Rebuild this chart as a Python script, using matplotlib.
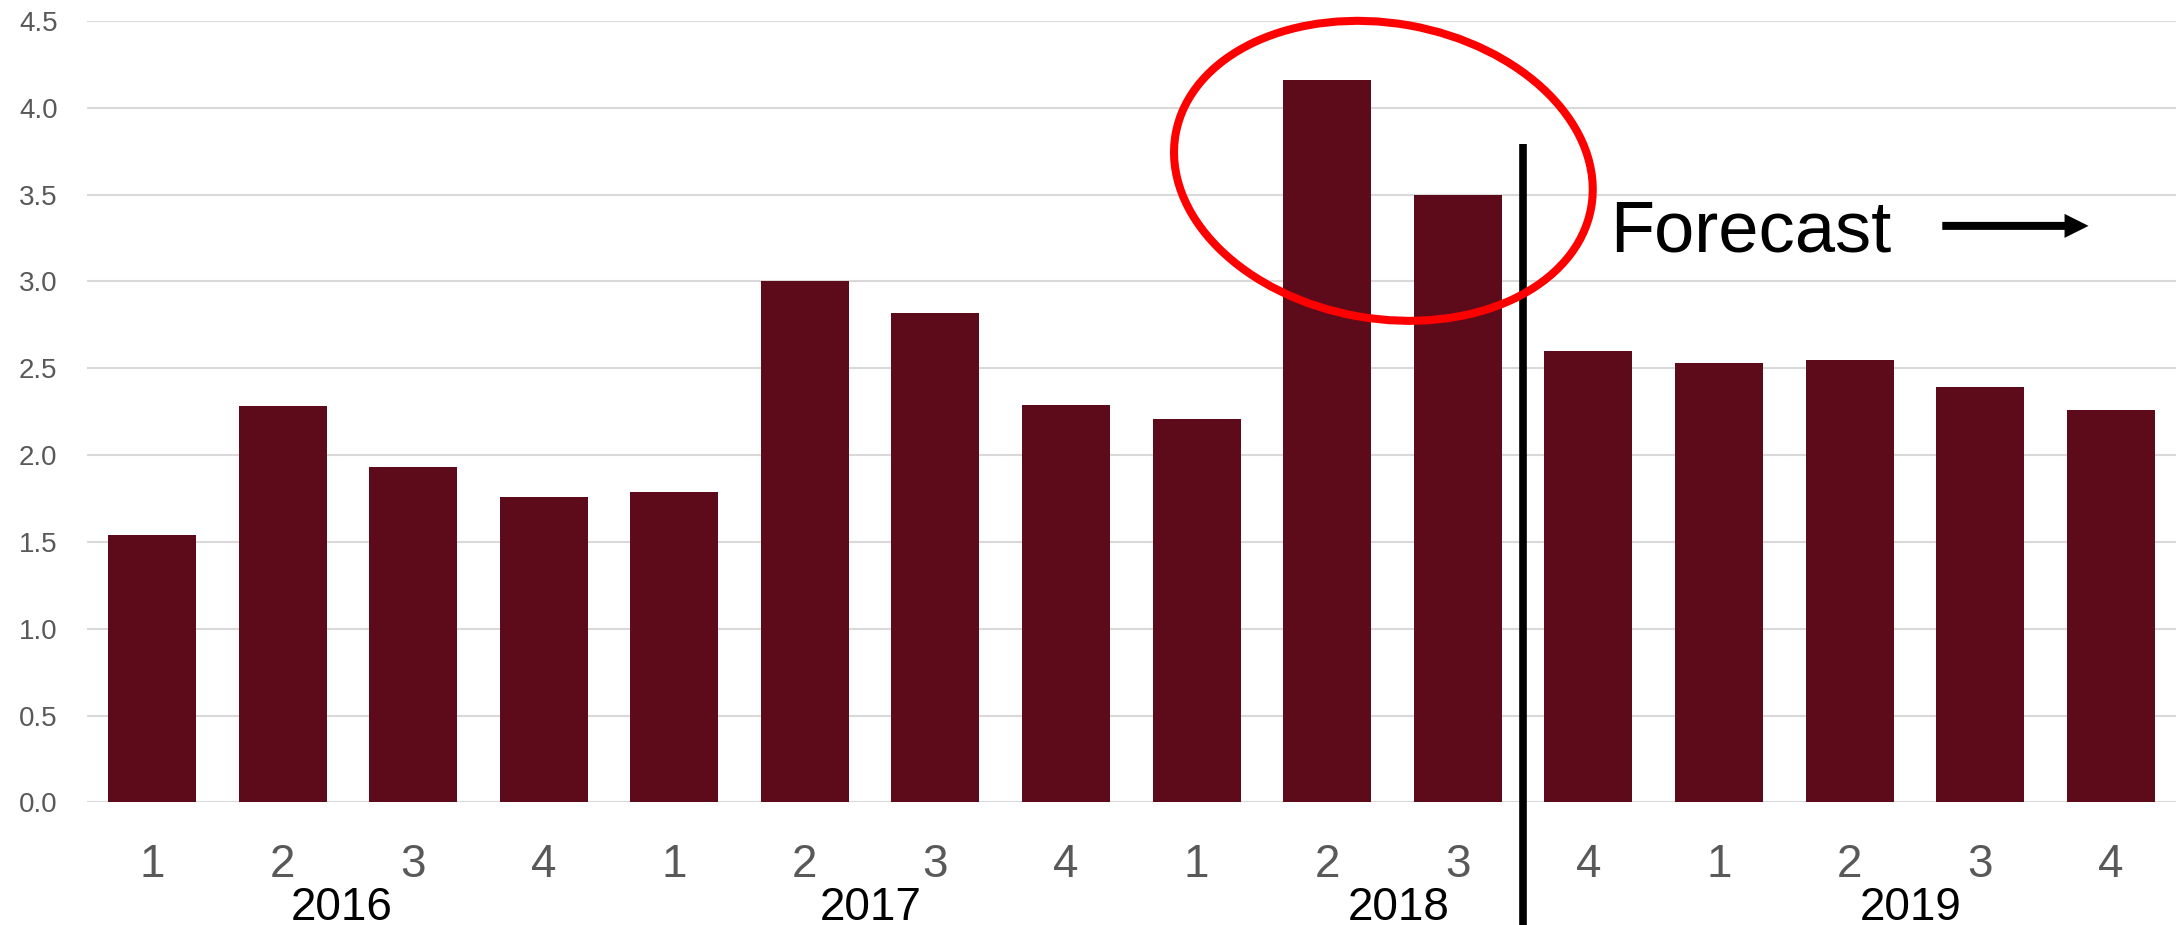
import numpy as np
import matplotlib
matplotlib.use("Agg")
import matplotlib.pyplot as plt
from matplotlib.patches import Ellipse
from matplotlib.transforms import ScaledTranslation

# quarterly values, 2016 Q1 .. 2019 Q4
quarters = ["1", "2", "3", "4"] * 4
years = ["2016", "2017", "2018", "2019"]
year_pos = [1.45, 5.5, 9.55, 13.47]
values = [1.54, 2.28, 1.93, 1.76, 1.79, 3.00, 2.82, 2.29,
          2.21, 4.16, 3.50, 2.60, 2.53, 2.55, 2.39, 2.26]
yticks = [0.0, 0.5, 1.0, 1.5, 2.0, 2.5, 3.0, 3.5, 4.0, 4.5]

# where the forecast starts (between bar 11 and 12) and the top of the divider
forecast_split = 10.5
divider_top = 3.79

bar_color = "#5d0b1b"
grid_color = "#d9d9d9"
tick_color = "#595959"

plt.rcParams["font.family"] = ["Liberation Sans", "DejaVu Sans"]

fig = plt.figure(figsize=(21.78, 9.25), dpi=100)
ax = fig.add_axes([0.0398, 0.1326, 0.9593, 0.8447])

x = np.arange(len(values))
ax.bar(x, values, width=0.674, color=bar_color, zorder=2)

ax.set_xlim(-0.5, len(values) - 0.5)
ax.set_ylim(0, 4.5)

# y axis: light horizontal grid, no spines
ax.set_yticks(yticks)
ax.set_yticklabels(["%.1f" % v for v in yticks])
ax.yaxis.grid(True, color=grid_color, lw=1.5, zorder=0)
ax.set_axisbelow(True)
for s in ax.spines.values():
    s.set_visible(False)
ax.tick_params(axis="y", length=0, pad=21, labelsize=20, labelcolor=tick_color)

# x axis: quarter numbers, then the year below them
ax.set_xticks(x)
ax.set_xticklabels(quarters)
ax.tick_params(axis="x", length=0, pad=29.5, labelsize=33, labelcolor=tick_color)
for xp, yr in zip(year_pos, years):
    ax.text(xp, -0.1506, yr, transform=ax.get_xaxis_transform(),
            ha="center", va="baseline", fontsize=33, color="black")

# vertical divider running down past the axis
ax.plot([forecast_split, forecast_split], [divider_top, -0.75], color="black",
        lw=5.5, solid_capstyle="butt", clip_on=False, zorder=4)

# forecast label with arrow
ax.text(11.17, 3.17, "Forecast", fontsize=52, ha="left", va="baseline",
        color="black", zorder=4)
ax.annotate("", xy=(14.83, 3.32), xytext=(13.71, 3.32),
            arrowprops=dict(arrowstyle="simple,head_length=0.864,head_width=0.864,tail_width=0.288",
                            mutation_scale=20, fc="black", ec="none", lw=0,
                            shrinkA=0, shrinkB=0))

# red ellipse around the 2018 peak, sized in inches so it is not stretched
ell_trans = fig.dpi_scale_trans + ScaledTranslation(9.43, 3.637, ax.transData)
ell = Ellipse((0, 0), width=4.22, height=2.954, angle=-10, fill=False,
              edgecolor="#ff0000", lw=5.8, transform=ell_trans, zorder=5,
              clip_on=False)
ax.add_patch(ell)

fig.savefig("out.png", dpi=100)
